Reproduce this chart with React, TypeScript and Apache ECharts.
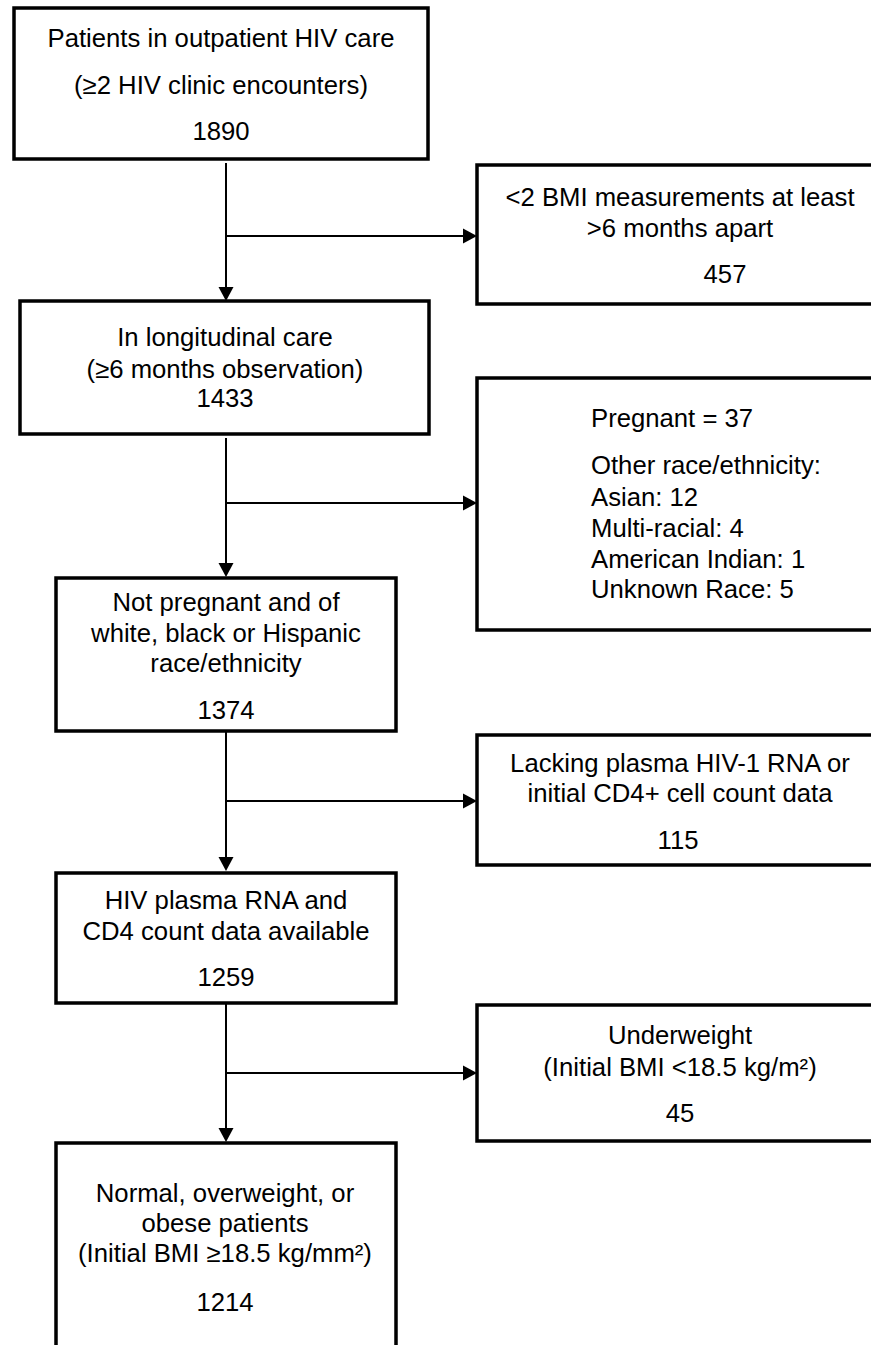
import React, { useEffect, useRef } from "react";
import * as echarts from "echarts";

// ---- Data ----
const mainCounts = [1890, 1433, 1374, 1259, 1214];
const mainLabels: string[][] = [
  ["Patients in outpatient HIV care", "(≥2 HIV clinic encounters)"],
  ["In longitudinal care", "(≥6 months observation)"],
  ["Not pregnant and of", "white, black or Hispanic", "race/ethnicity"],
  ["HIV plasma RNA and", "CD4 count data available"],
  ["Normal, overweight, or", "obese patients", "(Initial BMI ≥18.5 kg/mm²)"],
];
const excludedCounts = [457, 115, 45];
const excludedLabels: string[][] = [
  ["<2 BMI measurements at least", ">6 months apart"],
  ["Lacking plasma HIV-1 RNA or", "initial CD4+ cell count data"],
  ["Underweight", "(Initial BMI <18.5 kg/m²)"],
];
const pregnantCount = 37;
const otherRaceLabels = ["Asian", "Multi-racial", "American Indian", "Unknown Race"];
const otherRaceCounts = [12, 4, 1, 5];

// ---- Layout ----
const FONT = "'Liberation Sans', Arial, Helvetica, sans-serif";
const FS = 25.7;
const mainBoxes = [
  { x: 14, y: 8, w: 414, h: 151, cx: 221, lines: [38, 85, 131] },
  { x: 20, y: 301, w: 409, h: 133, cx: 225, lines: [337, 369, 398] },
  { x: 56, y: 578, w: 340, h: 153, cx: 226, lines: [602, 633, 663, 710] },
  { x: 56, y: 873, w: 340, h: 130, cx: 226, lines: [900, 931, 977] },
  { x: 56, y: 1143, w: 340, h: 260, cx: 225, lines: [1193, 1223, 1253, 1302] },
];
const rightX = 477;
const rightW = 430;
const excludedBoxes = [
  { y: 165, h: 139, xs: [680, 680, 725], lines: [197, 228, 274] },
  { y: 735, h: 130, xs: [680, 680, 678], lines: [763, 793, 840] },
  { y: 1005, h: 136, xs: [680, 680, 680], lines: [1035, 1067, 1113] },
];
const raceBox = { y: 378, h: 252, tx: 591, lines: [418, 465, 497, 528, 559, 589] };
const stemX = 226;
const connectors = [
  { from: 163, to: 301, branch: 236 },
  { from: 438, to: 577, branch: 503 },
  { from: 731, to: 871, branch: 801 },
  { from: 1003, to: 1142, branch: 1073 },
];

function txt(text: string, x: number, y: number, align = "center") {
  return {
    type: "text",
    x,
    y,
    silent: true,
    style: {
      text,
      fill: "#000",
      fontSize: FS,
      fontFamily: FONT,
      textAlign: align,
      align,
      textVerticalAlign: "middle",
      verticalAlign: "middle",
    },
  };
}

function box(x: number, y: number, w: number, h: number) {
  return {
    type: "rect",
    shape: { x, y, width: w, height: h },
    style: { fill: "#fff", stroke: "#000", lineWidth: 3.5 },
  };
}

function buildGraphics() {
  const els: any[] = [];
  // connectors
  connectors.forEach((c) => {
    els.push({
      type: "line",
      shape: { x1: stemX, y1: c.from, x2: stemX, y2: c.to - 12 },
      style: { stroke: "#000", lineWidth: 2 },
    });
    els.push({
      type: "polygon",
      shape: { points: [[stemX - 7.5, c.to - 14], [stemX + 7.5, c.to - 14], [stemX, c.to]] },
      style: { fill: "#000" },
    });
    els.push({
      type: "line",
      shape: { x1: stemX, y1: c.branch, x2: rightX - 12, y2: c.branch },
      style: { stroke: "#000", lineWidth: 2 },
    });
    els.push({
      type: "polygon",
      shape: { points: [[rightX - 14, c.branch - 7.5], [rightX - 14, c.branch + 7.5], [rightX, c.branch]] },
      style: { fill: "#000" },
    });
  });
  // main boxes
  mainBoxes.forEach((b, i) => {
    els.push(box(b.x, b.y, b.w, b.h));
    const lines = [...mainLabels[i], String(mainCounts[i])];
    lines.forEach((t, j) => els.push(txt(t, b.cx, b.lines[j])));
  });
  // excluded boxes
  excludedBoxes.forEach((b, i) => {
    els.push(box(rightX, b.y, rightW, b.h));
    const lines = [...excludedLabels[i], String(excludedCounts[i])];
    lines.forEach((t, j) => els.push(txt(t, b.xs[j], b.lines[j])));
  });
  // race box
  els.push(box(rightX, raceBox.y, rightW, raceBox.h));
  const raceLines = [
    `Pregnant = ${pregnantCount}`,
    "Other race/ethnicity:",
    ...otherRaceLabels.map((l, i) => `${l}: ${otherRaceCounts[i]}`),
  ];
  raceLines.forEach((t, j) => els.push(txt(t, raceBox.tx, raceBox.lines[j], "left")));
  return els;
}

export default function App() {
  const ref = useRef<HTMLDivElement>(null);
  useEffect(() => {
    if (!ref.current) return;
    const chart = echarts.init(ref.current, undefined, { renderer: "svg" });
    chart.setOption({
      animation: false,
      backgroundColor: "#fff",
      graphic: { elements: buildGraphics() },
    });
    return () => chart.dispose();
  }, []);
  return (
    <div
      ref={ref}
      style={{ position: "absolute", left: 0, top: 0, width: 871, height: 1345, background: "#fff" }}
    />
  );
}
